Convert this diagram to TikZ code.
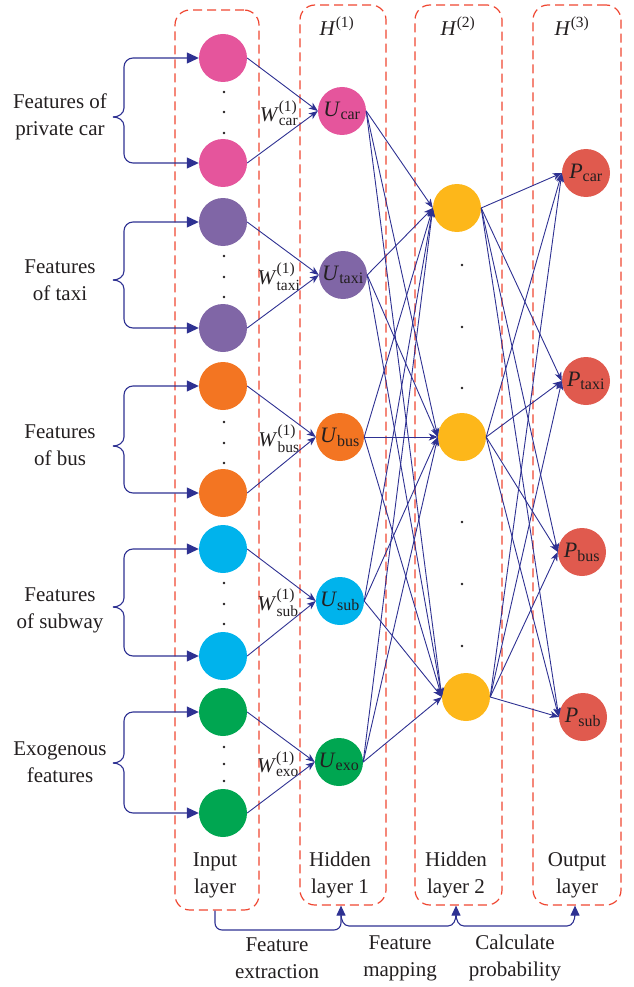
\documentclass[tikz,border=0pt]{standalone}
\usepackage{amsmath}
\usepackage{fontspec}
\setmainfont{Liberation Serif}
\DeclareMathSizes{21}{21}{15.5}{11}
\DeclareMathSizes{22}{22}{16}{12}
\usetikzlibrary{arrows.meta}
\definecolor{boxred}{HTML}{EF4631}
\definecolor{lineblue}{HTML}{2E3192}
\definecolor{cpink}{HTML}{E5559C}
\definecolor{cpurple}{HTML}{8066A6}
\definecolor{corange}{HTML}{F37522}
\definecolor{ccyan}{HTML}{00B3EC}
\definecolor{cgreen}{HTML}{00A651}
\definecolor{cyellow}{HTML}{FDB71A}
\definecolor{cred}{HTML}{E05A4E}
\definecolor{txt}{HTML}{231F20}
\begin{document}
\begin{tikzpicture}[x=1pt,y=-1pt,
  every node/.style={text=txt},
  lbl/.style={align=center, font=\fontsize{21}{27}\selectfont, inner sep=0pt},
  neuron/.style={circle, minimum size=48pt, inner sep=0pt, font=\fontsize{22}{24}\selectfont},
  layerbox/.style={draw=boxred, line width=1.2pt, dash pattern=on 9pt off 5pt, rounded corners=15pt, inner sep=0pt},
  conn/.style={lineblue, line width=0.9pt, -{Stealth[length=9pt,width=7pt,inset=2.5pt]}},
  bracearr/.style={lineblue, line width=1.1pt, -{Triangle[length=12pt,width=11pt]}},
  bline/.style={lineblue, line width=1.1pt},
  btip/.style={-{Triangle[length=10pt,width=9pt]}},
]
\useasboundingbox (0,0) rectangle (633,987);

% layer boxes
\node[layerbox, minimum width=84pt, minimum height=900pt] (inbox) at (217,460) {};
\node[layerbox, minimum width=86pt, minimum height=900pt] (h1box) at (343,455) {};
\node[layerbox, minimum width=87pt, minimum height=900pt] (h2box) at (458.5,455) {};
\node[layerbox, minimum width=88pt, minimum height=900pt] (outbox) at (577,455) {};

% input neurons
\foreach \g/\c/\yt/\yb in {car/cpink/58/163, taxi/cpurple/222/328, bus/corange/386/493, sub/ccyan/549/656, exo/cgreen/712/813} {
  \node[neuron, fill=\c] (in\g1) at (223,\yt) {};
  \node[neuron, fill=\c] (in\g2) at (223,\yb) {};
}
\foreach \y in {92,112,133,256,277,297,422,443,463,583,604,624,747,764,781}
  \fill[txt] (224,\y) circle (1.3pt);
\foreach \y in {265,327,388,522,584,646}
  \fill[txt] (462,\y) circle (1.3pt);

% hidden layer 1
\node[neuron, fill=cpink] (Ucar) at (342,111) {\textit{U}$_{\text{car}}$};
\node[neuron, fill=cpurple] (Utaxi) at (343,275) {\textit{U}$_{\text{taxi}}$};
\node[neuron, fill=corange] (Ubus) at (340,437) {\textit{U}$_{\text{bus}}$};
\node[neuron, fill=ccyan] (Usub) at (340,601) {\textit{U}$_{\text{sub}}$};
\node[neuron, fill=cgreen] (Uexo) at (339,762) {\textit{U}$_{\text{exo}}$};

% hidden layer 2
\node[neuron, fill=cyellow] (h1) at (457,208) {};
\node[neuron, fill=cyellow] (h2) at (462,437) {};
\node[neuron, fill=cyellow] (h3) at (466,697) {};

% output
\node[neuron, fill=cred] (Pcar) at (586,173) {\textit{P}$_{\text{car}}$};
\node[neuron, fill=cred] (Ptaxi) at (586,381) {\textit{P}$_{\text{taxi}}$};
\node[neuron, fill=cred] (Pbus) at (582,552) {\textit{P}$_{\text{bus}}$};
\node[neuron, fill=cred] (Psub) at (583,717) {\textit{P}$_{\text{sub}}$};

% weights labels
\node[lbl] (Wcar) at (279,113) {\textit{W}$^{\text{(1)}}_{\text{car}}$};
\node[lbl] (Wtaxi) at (279,277) {\textit{W}$^{\text{(1)}}_{\text{taxi}}$};
\node[lbl] (Wbus) at (279,439) {\textit{W}$^{\text{(1)}}_{\text{bus}}$};
\node[lbl] (Wsub) at (278,603) {\textit{W}$^{\text{(1)}}_{\text{sub}}$};
\node[lbl] (Wexo) at (278,764) {\textit{W}$^{\text{(1)}}_{\text{exo}}$};

% layer headers
\node[lbl] (Hone) at (337,26) {\textit{H}$^{\text{(1)}}$};
\node[lbl] (Htwo) at (458,26) {\textit{H}$^{\text{(2)}}$};
\node[lbl] (Hthree) at (572,26) {\textit{H}$^{\text{(3)}}$};

% left labels
\node[lbl] (Lcar) at (60,117) {Features of\\private car};
\node[lbl] (Ltaxi) at (60,280) {Features\\of taxi};
\node[lbl] (Lbus) at (60,445) {Features\\of bus};
\node[lbl] (Lsub) at (60,610) {Features\\of subway};
\node[lbl] (Lexo) at (60,762) {Exogenous\\features};

% bottom labels
\node[lbl] (Linput) at (215,875) {Input\\layer};
\node[lbl] (Lh1) at (340,875) {Hidden\\layer 1};
\node[lbl] (Lh2) at (456,875) {Hidden\\layer 2};
\node[lbl] (Lout) at (577,875) {Output\\layer};
\node[lbl] (Lext) at (277,958) {Feature\\extraction};
\node[lbl] (Lmap) at (400,958) {Feature\\mapping};
\node[lbl] (Lcalc) at (515,958) {Calculate\\probability};

% braces
\foreach \g/\yt/\ym/\yb in {car/58/117/163, taxi/222/280/328, bus/386/446/493, sub/549/607/656, exo/712/763/813} {
  \coordinate (tip\g) at (113,\ym);
  \draw[bracearr] (tip\g) to[out=0,in=-90] (124,\ym-9) -- (124,\yt+9) to[out=90,in=180] (133,\yt) -- (in\g1.west);
  \draw[bracearr] (tip\g) to[out=0,in=90] (124,\ym+9) -- (124,\yb-9) to[out=-90,in=180] (133,\yb) -- (in\g2.west);
}

% input -> hidden 1
\foreach \g in {car,taxi,bus,sub,exo} {
  \draw[conn] (in\g1.east) -- (U\g.west);
  \draw[conn] (in\g2.east) -- (U\g.west);
}
% hidden 1 -> hidden 2
\foreach \g in {car,taxi,bus,sub,exo}
  \foreach \k in {1,2,3}
    \draw[conn] (U\g.east) -- (h\k.west);
% hidden 2 -> output
\foreach \k in {1,2,3}
  \foreach \p in {car,taxi,bus,sub}
    \draw[conn] (h\k.east) -- (P\p.west);

% bottom connectors
\draw[bline, btip, rounded corners=7pt] ([xshift=-2pt]inbox.south) |- (341,930) -- ([xshift=-2pt]h1box.south);
\draw[bline, btip] (341,914) to[out=-90,in=180] (349,926) -- (448,926) to[out=0,in=-90] (456,914) -- ([xshift=-2.5pt]h2box.south);
\draw[bline, btip] (456,914) to[out=-90,in=180] (464,926) -- (567,926) to[out=0,in=-90] (575,914) -- ([xshift=-2pt]outbox.south);
\end{tikzpicture}
\end{document}
